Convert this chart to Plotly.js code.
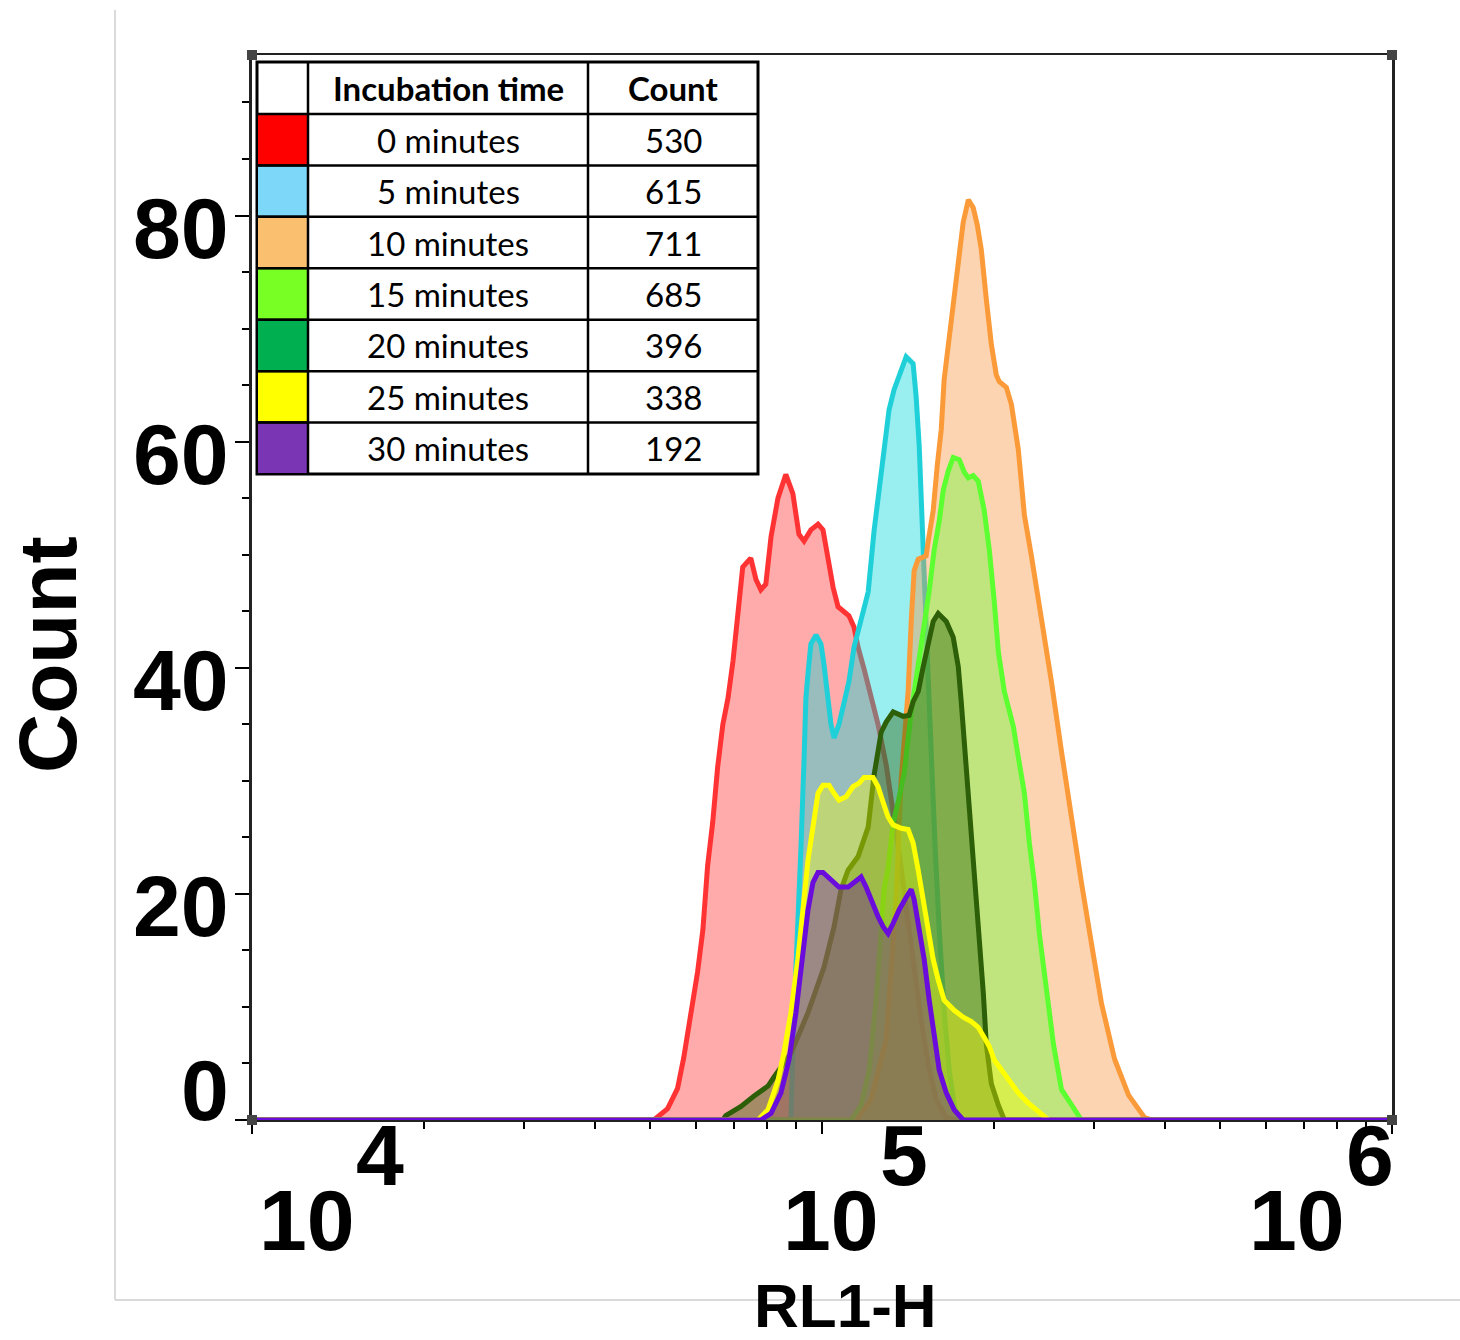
<!DOCTYPE html>
<html>
<head>
<meta charset="utf-8">
<script src="https://cdn.plot.ly/plotly-3.0.1.min.js"></script>
<style>
  html, body { margin: 0; padding: 0; background: #ffffff; }
  #chart { width: 1460px; height: 1340px; }
</style>
</head>
<body>
<div id="chart"></div>
<script>
// RL1-H histogram overlay, one series per incubation time

// ---- data ----
const incubationTimes = ['0 minutes', '5 minutes', '10 minutes', '15 minutes', '20 minutes', '25 minutes', '30 minutes'];
const eventCounts = [530, 615, 711, 685, 396, 338, 192];

const rl1_0min = [10000, 50700, 53600, 55800, 57200, 58900, 60500, 61800, 63000, 64300, 65600, 67000, 68400, 69800, 71200, 72600, 75000, 76600, 78100, 79700, 81400, 83700, 86400, 88900, 91100, 93000, 95600, 98400, 100400, 102500, 104600, 106700, 109300, 111500, 113800, 115700, 118500, 121900, 125400, 129600, 133300, 137100, 141100, 145100, 149300, 153600, 158600, 165200, 172000, 1000000];
const cnt_0min = [0, 0, 1.0, 2.8, 5.5, 9.3, 13.1, 16.8, 22.5, 26.3, 31.2, 35.0, 37.3, 40.6, 44.4, 48.9, 49.7, 47.8, 46.9, 47.4, 51.6, 55.0, 57.1, 55.4, 51.8, 51.2, 52.2, 52.7, 52.2, 49.7, 47.1, 45.4, 45.0, 44.6, 43.6, 41.8, 39.9, 37.6, 35.0, 31.4, 27.4, 23.0, 18.1, 13.3, 8.8, 4.9, 1.8, 0.2, 0, 0];

const rl1_5min = [10000, 88200, 89300, 90700, 91900, 93000, 93700, 94500, 95600, 97600, 99600, 100800, 102500, 103700, 105000, 107100, 109300, 111500, 113800, 117100, 120500, 123400, 125900, 128500, 131100, 133800, 137700, 140500, 144500, 146300, 148100, 149300, 150500, 151700, 153600, 155400, 158000, 160600, 163800, 167200, 170600, 174100, 1000000];
const cnt_5min = [0, 0, 9.3, 16.8, 24.4, 31.9, 37.3, 39.5, 42.1, 42.9, 42.1, 40.3, 37.3, 35.0, 33.8, 35.0, 36.9, 38.8, 41.8, 44.1, 46.7, 52.1, 55.7, 60.1, 62.8, 64.6, 66.4, 67.5, 66.9, 63.9, 59.6, 55.8, 51.2, 46.0, 38.9, 31.9, 23.9, 16.8, 9.7, 4.4, 1.3, 0, 0];

const rl1_10min = [10000, 114800, 121900, 129600, 134900, 137700, 139400, 141600, 143400, 145100, 147500, 152300, 153600, 156700, 159300, 161900, 163800, 166500, 169900, 173400, 176900, 180600, 184200, 187200, 190300, 194200, 198200, 202200, 204700, 210600, 214900, 221000, 226500, 233000, 242600, 252600, 263100, 273900, 285200, 297000, 309300, 326000, 345000, 368100, 378700, 1000000];
const cnt_10min = [0, 0, 1.8, 7.1, 19.5, 30.1, 33.5, 37.9, 44.1, 48.6, 49.6, 49.9, 51.2, 53.9, 57.9, 61.1, 65.5, 68.4, 72.3, 75.8, 79.4, 81.4, 80.7, 79.2, 77.0, 72.6, 68.6, 65.9, 65.3, 64.8, 63.3, 59.3, 53.5, 49.9, 44.5, 38.8, 32.6, 26.7, 21.0, 15.6, 10.3, 5.4, 2.2, 0.2, 0, 0];

const rl1_15min = [10000, 112500, 117100, 121000, 124400, 127000, 128500, 130600, 133300, 136000, 139400, 143400, 147500, 151100, 154200, 157300, 160600, 163200, 166500, 169900, 174100, 177700, 180600, 184200, 188000, 192600, 196600, 200600, 203900, 208900, 216600, 221000, 226500, 231100, 235800, 240600, 247600, 254700, 263100, 273900, 285200, 1000000];
const cnt_15min = [0, 0, 1.3, 4.4, 10.6, 16.8, 20.4, 22.3, 26.3, 28.1, 30.7, 36.1, 40.1, 44.1, 46.8, 50.4, 53.0, 55.7, 57.4, 58.6, 58.4, 57.3, 56.8, 57.0, 56.5, 53.9, 50.4, 45.8, 41.4, 37.9, 34.8, 32.1, 28.9, 24.5, 21.0, 16.5, 11.2, 6.7, 2.7, 1.3, 0, 0];

const rl1_20min = [10000, 67000, 67800, 72100, 75900, 80400, 82400, 88200, 94500, 100800, 105000, 108000, 111100, 115700, 120500, 123400, 125400, 127000, 129600, 133300, 138800, 142200, 144500, 147500, 150500, 153600, 156700, 159900, 165200, 169900, 173400, 175500, 177700, 180600, 182800, 186500, 188800, 191900, 194200, 198200, 203900, 208900, 1000000];
const cnt_20min = [0, 0, 0.4, 1.2, 2.1, 3.0, 3.8, 5.9, 9.5, 13.5, 17.1, 20.4, 22.1, 23.3, 25.9, 30.5, 32.6, 34.3, 35.2, 36.1, 35.7, 35.8, 37.0, 37.9, 40.1, 42.3, 44.1, 44.8, 44.1, 42.7, 40.1, 37.0, 33.5, 28.9, 24.5, 20.1, 15.6, 11.2, 6.7, 3.2, 1.3, 0, 0];

const rl1_25min = [10000, 77200, 80400, 83700, 85700, 88200, 90700, 92600, 94500, 96400, 98400, 100400, 102900, 105000, 107100, 110200, 113400, 116200, 118500, 122900, 125400, 128000, 130600, 133300, 137700, 141600, 144500, 147500, 150500, 153600, 156700, 159900, 163800, 170600, 176900, 182800, 188000, 192600, 196600, 200600, 206400, 212300, 221000, 230200, 239700, 249600, 1000000];
const cnt_25min = [0, 0, 0.9, 3.5, 5.9, 9.5, 14.2, 18.6, 23.0, 25.9, 28.9, 29.6, 29.6, 28.9, 28.3, 28.6, 29.5, 29.8, 30.3, 30.3, 29.5, 28.1, 26.8, 26.1, 25.8, 25.7, 24.5, 22.1, 19.5, 16.5, 14.2, 12.4, 10.6, 9.7, 9.1, 8.7, 8.2, 7.3, 6.5, 5.3, 4.4, 3.5, 2.4, 1.5, 0.7, 0, 0];

const rl1_30min = [10000, 78100, 81400, 84700, 87500, 90000, 92600, 94500, 96400, 98400, 100400, 103700, 107100, 111100, 114800, 117100, 119500, 121900, 125400, 128000, 130600, 133300, 136600, 140500, 143400, 145100, 148100, 151100, 154200, 157300, 160600, 165200, 170600, 176900, 1000000];
const cnt_30min = [0, 0, 0.6, 2.4, 5.3, 9.5, 14.8, 18.6, 21.0, 21.9, 21.9, 21.2, 20.6, 20.6, 21.1, 21.5, 20.6, 19.5, 18.0, 17.1, 16.5, 17.4, 18.6, 19.7, 20.4, 19.5, 17.1, 14.2, 10.6, 7.3, 4.4, 2.4, 0.9, 0, 0];

const xTickVals = [10000, 100000, 1000000];
const xTickBase = ['10', '10', '10'];
const xTickExp = ['4', '5', '6'];
const xMinorVals = [20000, 30000, 40000, 50000, 60000, 70000, 80000, 90000,
                    200000, 300000, 400000, 500000, 600000, 700000, 800000, 900000];
const yTickVals = [0, 20, 40, 60, 80];
const yTickText = ['0', '20', '40', '60', '80'];

// ---- styling ----
const lineColors = ['#FF3333', '#1FD0D8', '#FB9A38', '#5CFF30', '#2D5E08', '#FFFF00', '#6A0CDC'];
const fillColors = ['rgba(255,0,0,0.33)', 'rgba(0,214,218,0.40)', 'rgba(250,148,60,0.40)',
                    'rgba(102,255,51,0.40)', 'rgba(40,96,8,0.42)', 'rgba(255,255,0,0.36)',
                    'rgba(106,22,150,0.40)'];
const swatchColors = ['#FF0000', '#7DD7F8', '#FBBF70', '#78FF24', '#00B050', '#FFFF00', '#7A35B4'];

const seriesX = [rl1_0min, rl1_5min, rl1_10min, rl1_15min, rl1_20min, rl1_25min, rl1_30min];
const seriesY = [cnt_0min, cnt_5min, cnt_10min, cnt_15min, cnt_20min, cnt_25min, cnt_30min];

const W = 1460, H = 1340;
const M = { l: 252, r: 68, t: 55, b: 220 };
const plotW = W - M.l - M.r, plotH = H - M.t - M.b;
// pixel -> paper helpers for layout decorations
const px = v => (v - M.l) / plotW;
const py = v => (H - M.b - v) / plotH;

const traces = incubationTimes.map((name, i) => ({
  type: 'scatter',
  mode: 'lines',
  name: name,
  x: seriesX[i],
  y: seriesY[i],
  fill: 'tozeroy',
  fillcolor: fillColors[i],
  line: { color: lineColors[i], width: 5, shape: 'linear' },
  hoverinfo: 'x+y+name',
  showlegend: false
}));

const shapes = [];
const annotations = [];

// outer light frame
shapes.push({ type: 'line', xref: 'paper', yref: 'paper', x0: px(115), x1: px(115), y0: py(10), y1: py(1300),
              line: { color: '#DADADA', width: 2 } });
shapes.push({ type: 'line', xref: 'paper', yref: 'paper', x0: px(115), x1: px(1460), y0: py(1300), y1: py(1300),
              line: { color: '#DADADA', width: 2 } });

// corner handles of the plot frame
[[252, 55], [1392, 55], [252, 1120], [1392, 1120]].forEach(([cx, cy]) => {
  shapes.push({ type: 'rect', xref: 'paper', yref: 'paper', x0: px(cx - 5), x1: px(cx + 5), y0: py(cy - 5), y1: py(cy + 5),
                fillcolor: '#444444', line: { width: 0 } });
});

// legend table
const tLeft = 257, tRight = 758, tTop = 62, headBottom = 114, rowH = 51.43;
const col1 = 308, col2 = 588;
const tBottom = headBottom + rowH * incubationTimes.length;
const tableFont = { family: 'Lato, Carlito, sans-serif', size: 33, color: '#000' };
shapes.push({ type: 'rect', xref: 'paper', yref: 'paper', x0: px(tLeft), x1: px(tRight), y0: py(tTop), y1: py(tBottom),
              fillcolor: '#FFFFFF', line: { color: '#000', width: 3 } });
incubationTimes.forEach((t, i) => {
  const top = headBottom + rowH * i;
  shapes.push({ type: 'rect', xref: 'paper', yref: 'paper', x0: px(tLeft), x1: px(col1), y0: py(top), y1: py(top + rowH),
                fillcolor: swatchColors[i], line: { color: '#000', width: 2 } });
  shapes.push({ type: 'line', xref: 'paper', yref: 'paper', x0: px(tLeft), x1: px(tRight), y0: py(top), y1: py(top),
                line: { color: '#000', width: 2.5 } });
  const cy = py(top + rowH / 2);
  annotations.push({ xref: 'paper', yref: 'paper', x: px((col1 + col2) / 2), y: cy, text: t, showarrow: false,
                     xanchor: 'center', yanchor: 'middle', font: tableFont });
  annotations.push({ xref: 'paper', yref: 'paper', x: px((col2 + tRight) / 2), y: cy, text: String(eventCounts[i]), showarrow: false,
                     xanchor: 'center', yanchor: 'middle', font: tableFont });
});
[col1, col2].forEach(cx => {
  shapes.push({ type: 'line', xref: 'paper', yref: 'paper', x0: px(cx), x1: px(cx), y0: py(tTop), y1: py(tBottom),
                line: { color: '#000', width: 2.5 } });
});
const headY = py((tTop + headBottom) / 2);
annotations.push({ xref: 'paper', yref: 'paper', x: px((col1 + col2) / 2), y: headY, text: '<b>Incubation time</b>', showarrow: false,
                   xanchor: 'center', yanchor: 'middle', font: tableFont });
annotations.push({ xref: 'paper', yref: 'paper', x: px((col2 + tRight) / 2), y: headY, text: '<b>Count</b>', showarrow: false,
                   xanchor: 'center', yanchor: 'middle', font: tableFont });

// y tick labels
const tickFont = { family: 'Liberation Sans, Arial, sans-serif', size: 86, color: '#000', weight: 'bold' };
yTickVals.forEach((v, i) => {
  annotations.push({ xref: 'paper', yref: 'y', x: px(231), y: v, text: '<b>' + yTickText[i] + '</b>', showarrow: false,
                     xanchor: 'right', yanchor: 'middle', yshift: v === 0 ? 30 : -12, font: tickFont });
});

// x tick labels: base and raised exponent
const baseShift = [55, 9, -95];
const expShift = [128, 82, -22];
xTickVals.forEach((v, i) => {
  annotations.push({ xref: 'x', yref: 'paper', x: Math.log10(v), y: py(1220), text: '<b>' + xTickBase[i] + '</b>', showarrow: false,
                     xanchor: 'center', yanchor: 'middle', xshift: baseShift[i], font: tickFont });
  annotations.push({ xref: 'x', yref: 'paper', x: Math.log10(v), y: py(1155), text: '<b>' + xTickExp[i] + '</b>', showarrow: false,
                     xanchor: 'center', yanchor: 'middle', xshift: expShift[i], font: tickFont });
});

// axis titles
annotations.push({ xref: 'paper', yref: 'paper', x: px(47), y: py(655), text: '<b>Count</b>', showarrow: false, textangle: -90,
                   xanchor: 'center', yanchor: 'middle', font: { family: 'Liberation Sans, Arial, sans-serif', size: 82, color: '#000', weight: 'bold' } });
annotations.push({ xref: 'paper', yref: 'paper', x: px(845), y: py(1305), text: '<b>RL1-H</b>', showarrow: false,
                   xanchor: 'center', yanchor: 'middle', font: { family: 'Liberation Sans, Arial, sans-serif', size: 62, color: '#000', weight: 'bold' } });

const layout = {
  width: W, height: H,
  margin: M,
  paper_bgcolor: '#FFFFFF',
  plot_bgcolor: '#FFFFFF',
  showlegend: false,
  hovermode: 'closest',
  xaxis: {
    type: 'log', range: [4, 6],
    showgrid: false, zeroline: false,
    showline: true, linecolor: '#222', linewidth: 2, mirror: true,
    ticks: 'outside', tickmode: 'array', tickvals: xTickVals, ticklen: 12, tickwidth: 2, tickcolor: '#000',
    showticklabels: false,
    minor: { tickmode: 'array', tickvals: xMinorVals, ticks: 'outside', ticklen: 7, tickwidth: 1.5, tickcolor: '#000', showgrid: false }
  },
  yaxis: {
    range: [0, 94.2],
    showgrid: false, zeroline: false,
    showline: true, linecolor: '#222', linewidth: 2.5, mirror: true,
    ticks: 'outside', tickmode: 'array', tickvals: yTickVals, ticklen: 14, tickwidth: 2, tickcolor: '#000',
    showticklabels: false,
    minor: { dtick: 5, ticks: 'outside', ticklen: 7, tickwidth: 1.5, tickcolor: '#000', showgrid: false }
  },
  shapes: shapes,
  annotations: annotations
};

Plotly.newPlot('chart', traces, layout, { displayModeBar: false });
</script>
</body>
</html>
